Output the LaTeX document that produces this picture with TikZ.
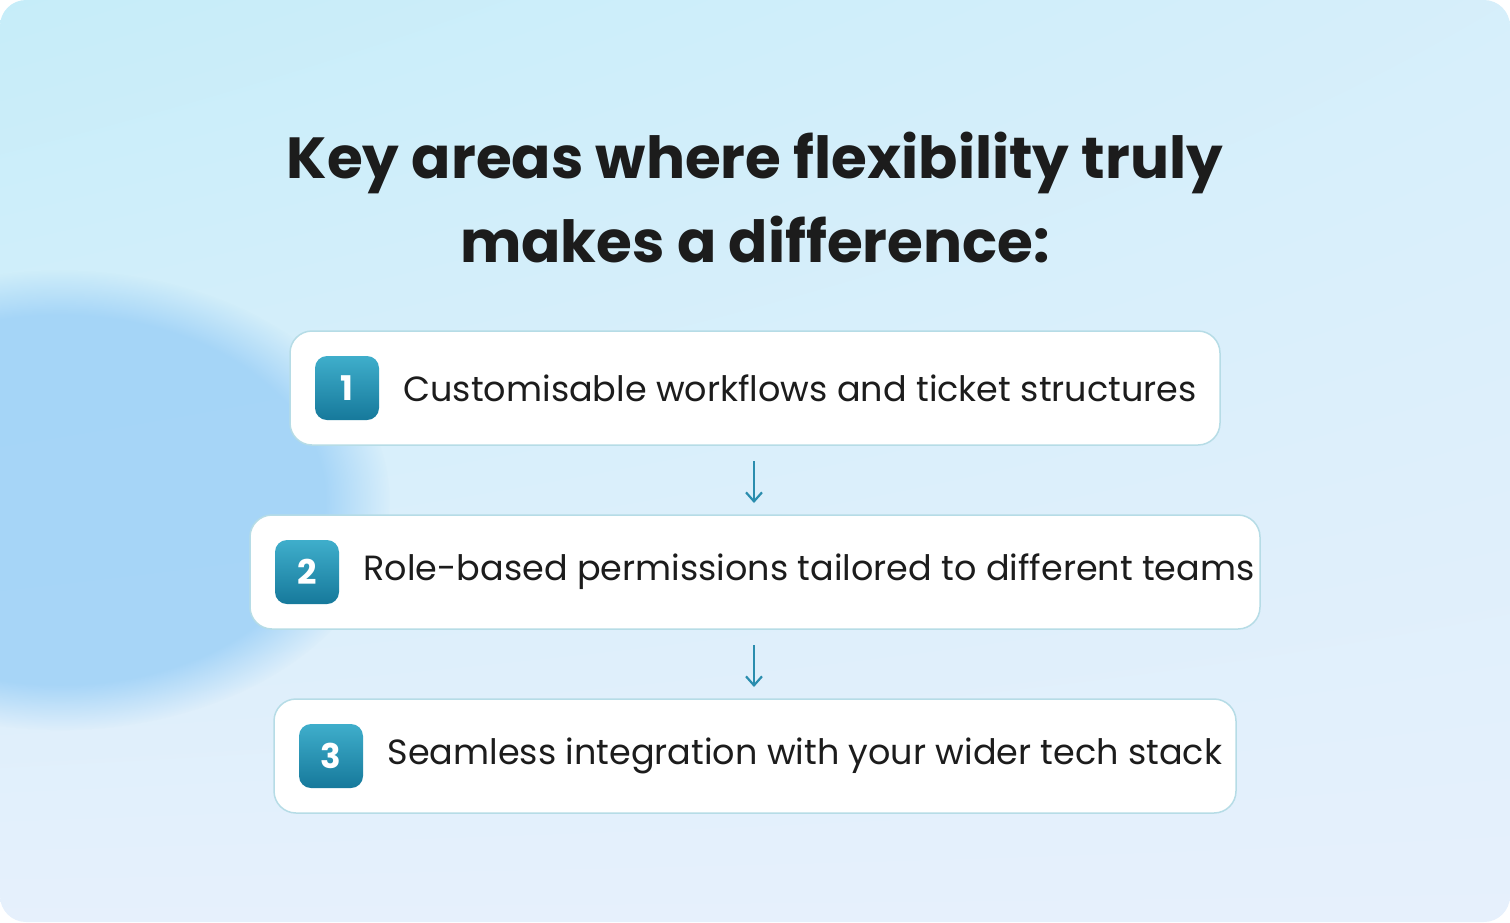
\documentclass[tikz,border=0pt]{standalone}
\usepackage{fontspec}
\setmainfont{Poppins}
\usetikzlibrary{arrows.meta,fadings,shadings}
\definecolor{bgA}{HTML}{C6EDF9}
\definecolor{bgB}{HTML}{E6F0FC}
\definecolor{blob}{HTML}{9ACFF7}
\definecolor{edge}{HTML}{B6DCE6}
\definecolor{badgeA}{HTML}{3FAECB}
\definecolor{badgeB}{HTML}{16799B}
\definecolor{arr}{HTML}{2A8DAE}
\definecolor{ink}{HTML}{1C1C1C}
\tikzset{
  card/.style={draw=edge, line width=1.5pt, fill=white, rounded corners=22pt},
  badge/.style={rounded corners=12pt, top color=badgeA, bottom color=badgeB, draw=none},
  num/.style={text=white, font=\fontsize{34}{34}\selectfont\bfseries},
  lbl/.style={text=ink, font=\fontsize{35}{40}\selectfont, anchor=west},
  flow/.style={draw=arr, line width=2.2pt, -{Straight Barb[length=9pt,width=16pt]}}
}
\begin{document}
\begin{tikzpicture}[x=1pt,y=-1pt]
\useasboundingbox (0,0) rectangle (1510,922);
\begin{scope}
\clip[rounded corners=26pt] (0,0) rectangle (1510,922);
\shade[upper left=bgA, upper right=bgA!50!bgB, lower left=bgB, lower right=bgB] (0,0) rectangle (1510,922);
\fill[blob, opacity=0.8, path fading=circle with fuzzy edge 20 percent] (60,500) ellipse (330 and 230);
\end{scope}
\node[text=ink, font=\fontsize{58}{84}\selectfont\bfseries, align=center] (title) at (755,197)
  {Key areas where flexibility truly\\makes a difference:};
\draw[card] (290,331) rectangle (1220,445);
\draw[card] (250,515) rectangle (1260,629);
\draw[card] (274,699) rectangle (1236,813);
\draw[badge] (315,356) rectangle (379,420);
\node[num] (n1) at (347,388) {1};
\node[lbl] (t1) at (400,388) {Customisable workflows and ticket structures};
\draw[badge] (275,540) rectangle (339,604);
\node[num] (n2) at (307,572) {2};
\node[lbl] (t2) at (360,572) {Role-based permissions tailored to different teams};
\draw[badge] (299,724) rectangle (363,788);
\node[num] (n3) at (331,756) {3};
\node[lbl] (t3) at (384,756) {Seamless integration with your wider tech stack};
\coordinate (a1) at (754,461); \coordinate (b1) at (754,503);
\coordinate (a2) at (754,645); \coordinate (b2) at (754,687);
\draw[flow] (a1) -- (b1);
\draw[flow] (a2) -- (b2);
\end{tikzpicture}
\end{document}
